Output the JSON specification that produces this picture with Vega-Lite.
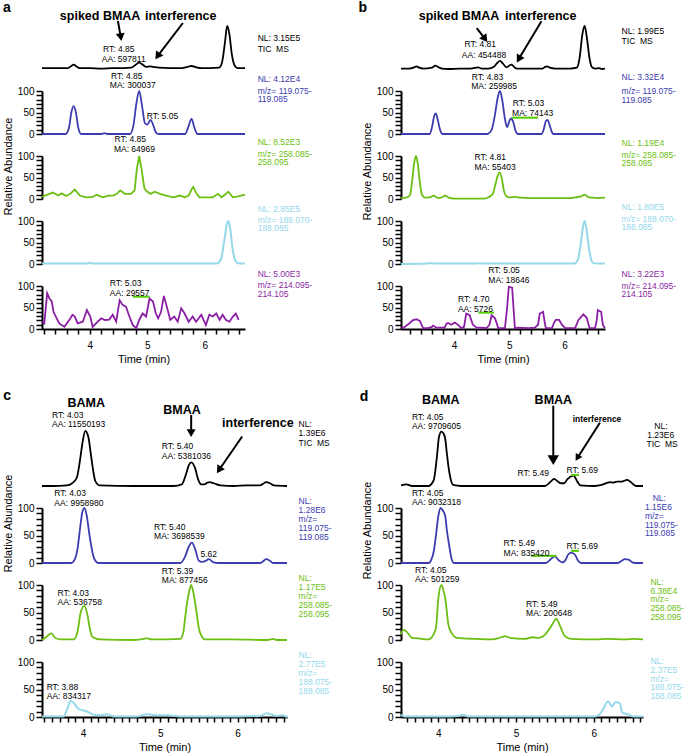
{
"$schema":"https://vega.github.io/schema/vega-lite/v6.json",
"padding":{"left":2,"top":0,"right":4,"bottom":4},
"autosize":{"type":"pad"},
"config":{
 "font":"Liberation Sans",
 "view":{"stroke":null},
 "axis":{"grid":false,"domainColor":"#000000","domainWidth":2,"tickColor":"#000000","tickWidth":1.5,"labelColor":"#000000","labelFontSize":10,"labelOverlap":false,"labelFlush":false,"titleColor":"#000000","titleFontWeight":"normal","titleFontSize":11},
 "axisY":{"tickSize":6,"labelPadding":2},
 "axisX":{"tickSize":5,"labelPadding":6,"titlePadding":3},
 "text":{"align":"left","baseline":"middle","fontSize":8.5}
},
"datasets":{
"tr":[
{"p":"a1","t":3.17,"v":2},{"p":"a1","t":3.3,"v":2},{"p":"a1","t":3.5,"v":2},{"p":"a1","t":3.62,"v":2},{"p":"a1","t":3.68,"v":7},{"p":"a1","t":3.72,"v":10},{"p":"a1","t":3.77,"v":6},{"p":"a1","t":3.82,"v":2},{"p":"a1","t":4.0,"v":2},{"p":"a1","t":4.2,"v":1},{"p":"a1","t":4.4,"v":2},{"p":"a1","t":4.6,"v":2},{"p":"a1","t":4.72,"v":3},{"p":"a1","t":4.8,"v":10},{"p":"a1","t":4.86,"v":15},{"p":"a1","t":4.93,"v":9},{"p":"a1","t":4.98,"v":5},{"p":"a1","t":5.05,"v":6},{"p":"a1","t":5.1,"v":5},{"p":"a1","t":5.2,"v":3},{"p":"a1","t":5.4,"v":2},{"p":"a1","t":5.6,"v":2},{"p":"a1","t":5.7,"v":5},{"p":"a1","t":5.77,"v":7},{"p":"a1","t":5.85,"v":4},{"p":"a1","t":5.95,"v":2},{"p":"a1","t":6.1,"v":2},{"p":"a1","t":6.25,"v":3},{"p":"a1","t":6.3,"v":15},{"p":"a1","t":6.35,"v":60},{"p":"a1","t":6.39,"v":100},{"p":"a1","t":6.43,"v":80},{"p":"a1","t":6.47,"v":35},{"p":"a1","t":6.52,"v":8},{"p":"a1","t":6.57,"v":2},{"p":"a1","t":6.62,"v":2},{"p":"a1","t":6.7,"v":2},
{"p":"a2","t":3.17,"v":0},{"p":"a2","t":3.58,"v":0},{"p":"a2","t":3.64,"v":15},{"p":"a2","t":3.68,"v":50},{"p":"a2","t":3.72,"v":65},{"p":"a2","t":3.76,"v":50},{"p":"a2","t":3.8,"v":15},{"p":"a2","t":3.85,"v":0},{"p":"a2","t":4.2,"v":0},{"p":"a2","t":4.26,"v":2},{"p":"a2","t":4.3,"v":0},{"p":"a2","t":4.7,"v":0},{"p":"a2","t":4.76,"v":20},{"p":"a2","t":4.81,"v":70},{"p":"a2","t":4.86,"v":100},{"p":"a2","t":4.91,"v":65},{"p":"a2","t":4.96,"v":25},{"p":"a2","t":5.0,"v":22},{"p":"a2","t":5.06,"v":33},{"p":"a2","t":5.1,"v":22},{"p":"a2","t":5.16,"v":2},{"p":"a2","t":5.2,"v":0},{"p":"a2","t":5.66,"v":0},{"p":"a2","t":5.71,"v":15},{"p":"a2","t":5.77,"v":35},{"p":"a2","t":5.82,"v":15},{"p":"a2","t":5.87,"v":0},{"p":"a2","t":6.7,"v":0},
{"p":"a3","t":3.17,"v":5},{"p":"a3","t":3.3,"v":12},{"p":"a3","t":3.36,"v":15},{"p":"a3","t":3.45,"v":8},{"p":"a3","t":3.51,"v":13},{"p":"a3","t":3.59,"v":7},{"p":"a3","t":3.66,"v":12},{"p":"a3","t":3.74,"v":22},{"p":"a3","t":3.83,"v":8},{"p":"a3","t":3.94,"v":4},{"p":"a3","t":4.05,"v":5},{"p":"a3","t":4.12,"v":10},{"p":"a3","t":4.18,"v":6},{"p":"a3","t":4.23,"v":4},{"p":"a3","t":4.32,"v":8},{"p":"a3","t":4.41,"v":8},{"p":"a3","t":4.47,"v":12},{"p":"a3","t":4.53,"v":20},{"p":"a3","t":4.61,"v":12},{"p":"a3","t":4.72,"v":12},{"p":"a3","t":4.78,"v":20},{"p":"a3","t":4.82,"v":70},{"p":"a3","t":4.86,"v":100},{"p":"a3","t":4.9,"v":70},{"p":"a3","t":4.95,"v":25},{"p":"a3","t":4.99,"v":18},{"p":"a3","t":5.06,"v":12},{"p":"a3","t":5.13,"v":17},{"p":"a3","t":5.22,"v":12},{"p":"a3","t":5.33,"v":8},{"p":"a3","t":5.45,"v":4},{"p":"a3","t":5.57,"v":8},{"p":"a3","t":5.65,"v":4},{"p":"a3","t":5.72,"v":8},{"p":"a3","t":5.77,"v":22},{"p":"a3","t":5.8,"v":28},{"p":"a3","t":5.86,"v":12},{"p":"a3","t":5.91,"v":4},{"p":"a3","t":6.0,"v":4},{"p":"a3","t":6.14,"v":4},{"p":"a3","t":6.23,"v":12},{"p":"a3","t":6.29,"v":4},{"p":"a3","t":6.35,"v":10},{"p":"a3","t":6.41,"v":17},{"p":"a3","t":6.49,"v":4},{"p":"a3","t":6.58,"v":6},{"p":"a3","t":6.7,"v":10},
{"p":"a4","t":3.17,"v":1},{"p":"a4","t":3.95,"v":1},{"p":"a4","t":4.0,"v":3},{"p":"a4","t":4.05,"v":1},{"p":"a4","t":5.5,"v":1},{"p":"a4","t":6.2,"v":1},{"p":"a4","t":6.28,"v":10},{"p":"a4","t":6.34,"v":55},{"p":"a4","t":6.39,"v":95},{"p":"a4","t":6.41,"v":100},{"p":"a4","t":6.44,"v":85},{"p":"a4","t":6.48,"v":40},{"p":"a4","t":6.53,"v":8},{"p":"a4","t":6.58,"v":2},{"p":"a4","t":6.7,"v":1},
{"p":"a5","t":3.17,"v":17},{"p":"a5","t":3.21,"v":13},{"p":"a5","t":3.26,"v":83},{"p":"a5","t":3.3,"v":71},{"p":"a5","t":3.34,"v":64},{"p":"a5","t":3.37,"v":40},{"p":"a5","t":3.41,"v":29},{"p":"a5","t":3.47,"v":13},{"p":"a5","t":3.56,"v":5},{"p":"a5","t":3.65,"v":22},{"p":"a5","t":3.7,"v":33},{"p":"a5","t":3.74,"v":29},{"p":"a5","t":3.79,"v":13},{"p":"a5","t":3.88,"v":17},{"p":"a5","t":3.95,"v":44},{"p":"a5","t":4.01,"v":29},{"p":"a5","t":4.05,"v":5},{"p":"a5","t":4.14,"v":17},{"p":"a5","t":4.2,"v":25},{"p":"a5","t":4.26,"v":21},{"p":"a5","t":4.34,"v":22},{"p":"a5","t":4.4,"v":33},{"p":"a5","t":4.46,"v":17},{"p":"a5","t":4.52,"v":67},{"p":"a5","t":4.57,"v":56},{"p":"a5","t":4.63,"v":52},{"p":"a5","t":4.69,"v":29},{"p":"a5","t":4.75,"v":9},{"p":"a5","t":4.81,"v":2},{"p":"a5","t":4.86,"v":21},{"p":"a5","t":4.92,"v":36},{"p":"a5","t":4.98,"v":29},{"p":"a5","t":5.04,"v":71},{"p":"a5","t":5.1,"v":64},{"p":"a5","t":5.15,"v":36},{"p":"a5","t":5.19,"v":25},{"p":"a5","t":5.24,"v":40},{"p":"a5","t":5.29,"v":77},{"p":"a5","t":5.34,"v":52},{"p":"a5","t":5.4,"v":21},{"p":"a5","t":5.47,"v":29},{"p":"a5","t":5.53,"v":17},{"p":"a5","t":5.59,"v":48},{"p":"a5","t":5.65,"v":36},{"p":"a5","t":5.72,"v":17},{"p":"a5","t":5.79,"v":29},{"p":"a5","t":5.85,"v":17},{"p":"a5","t":5.94,"v":33},{"p":"a5","t":6.02,"v":9},{"p":"a5","t":6.08,"v":33},{"p":"a5","t":6.14,"v":29},{"p":"a5","t":6.2,"v":36},{"p":"a5","t":6.26,"v":21},{"p":"a5","t":6.31,"v":33},{"p":"a5","t":6.37,"v":21},{"p":"a5","t":6.43,"v":17},{"p":"a5","t":6.49,"v":29},{"p":"a5","t":6.54,"v":36},{"p":"a5","t":6.59,"v":21},
{"p":"b1","t":3.04,"v":1},{"p":"b1","t":3.2,"v":1},{"p":"b1","t":3.28,"v":4},{"p":"b1","t":3.32,"v":6},{"p":"b1","t":3.37,"v":3},{"p":"b1","t":3.44,"v":1},{"p":"b1","t":3.6,"v":3},{"p":"b1","t":3.66,"v":8},{"p":"b1","t":3.72,"v":4},{"p":"b1","t":3.78,"v":1},{"p":"b1","t":3.9,"v":0},{"p":"b1","t":4.1,"v":1},{"p":"b1","t":4.3,"v":1},{"p":"b1","t":4.44,"v":4},{"p":"b1","t":4.5,"v":1},{"p":"b1","t":4.62,"v":1},{"p":"b1","t":4.72,"v":5},{"p":"b1","t":4.78,"v":14},{"p":"b1","t":4.83,"v":19},{"p":"b1","t":4.88,"v":13},{"p":"b1","t":4.95,"v":4},{"p":"b1","t":5.0,"v":8},{"p":"b1","t":5.04,"v":10},{"p":"b1","t":5.1,"v":3},{"p":"b1","t":5.14,"v":1},{"p":"b1","t":5.35,"v":1},{"p":"b1","t":5.6,"v":1},{"p":"b1","t":5.65,"v":5},{"p":"b1","t":5.68,"v":6},{"p":"b1","t":5.73,"v":3},{"p":"b1","t":5.83,"v":1},{"p":"b1","t":6.1,"v":1},{"p":"b1","t":6.22,"v":3},{"p":"b1","t":6.27,"v":25},{"p":"b1","t":6.32,"v":80},{"p":"b1","t":6.36,"v":100},{"p":"b1","t":6.4,"v":75},{"p":"b1","t":6.45,"v":25},{"p":"b1","t":6.49,"v":5},{"p":"b1","t":6.55,"v":1},{"p":"b1","t":6.62,"v":2},{"p":"b1","t":6.68,"v":0},{"p":"b1","t":6.73,"v":1},
{"p":"b2","t":3.04,"v":0},{"p":"b2","t":3.56,"v":0},{"p":"b2","t":3.6,"v":15},{"p":"b2","t":3.64,"v":42},{"p":"b2","t":3.67,"v":48},{"p":"b2","t":3.71,"v":30},{"p":"b2","t":3.75,"v":8},{"p":"b2","t":3.79,"v":0},{"p":"b2","t":4.6,"v":0},{"p":"b2","t":4.68,"v":10},{"p":"b2","t":4.74,"v":45},{"p":"b2","t":4.79,"v":85},{"p":"b2","t":4.83,"v":100},{"p":"b2","t":4.87,"v":80},{"p":"b2","t":4.92,"v":35},{"p":"b2","t":4.96,"v":16},{"p":"b2","t":5.0,"v":30},{"p":"b2","t":5.03,"v":36},{"p":"b2","t":5.07,"v":28},{"p":"b2","t":5.11,"v":8},{"p":"b2","t":5.15,"v":0},{"p":"b2","t":5.58,"v":0},{"p":"b2","t":5.62,"v":10},{"p":"b2","t":5.66,"v":30},{"p":"b2","t":5.69,"v":33},{"p":"b2","t":5.73,"v":20},{"p":"b2","t":5.77,"v":4},{"p":"b2","t":5.8,"v":0},{"p":"b2","t":6.73,"v":0},
{"p":"b3","t":3.04,"v":2},{"p":"b3","t":3.15,"v":4},{"p":"b3","t":3.2,"v":8},{"p":"b3","t":3.24,"v":40},{"p":"b3","t":3.28,"v":85},{"p":"b3","t":3.31,"v":100},{"p":"b3","t":3.34,"v":85},{"p":"b3","t":3.38,"v":40},{"p":"b3","t":3.42,"v":10},{"p":"b3","t":3.48,"v":3},{"p":"b3","t":3.56,"v":4},{"p":"b3","t":3.63,"v":8},{"p":"b3","t":3.68,"v":4},{"p":"b3","t":3.72,"v":2},{"p":"b3","t":3.78,"v":4},{"p":"b3","t":3.84,"v":8},{"p":"b3","t":3.9,"v":3},{"p":"b3","t":4.0,"v":1},{"p":"b3","t":4.2,"v":1},{"p":"b3","t":4.4,"v":1},{"p":"b3","t":4.55,"v":1},{"p":"b3","t":4.62,"v":4},{"p":"b3","t":4.7,"v":12},{"p":"b3","t":4.75,"v":35},{"p":"b3","t":4.79,"v":55},{"p":"b3","t":4.82,"v":62},{"p":"b3","t":4.86,"v":50},{"p":"b3","t":4.9,"v":20},{"p":"b3","t":4.95,"v":6},{"p":"b3","t":5.0,"v":4},{"p":"b3","t":5.1,"v":5},{"p":"b3","t":5.2,"v":3},{"p":"b3","t":5.35,"v":2},{"p":"b3","t":5.6,"v":2},{"p":"b3","t":5.83,"v":2},{"p":"b3","t":6.1,"v":2},{"p":"b3","t":6.19,"v":4},{"p":"b3","t":6.3,"v":6},{"p":"b3","t":6.36,"v":10},{"p":"b3","t":6.42,"v":5},{"p":"b3","t":6.5,"v":3},{"p":"b3","t":6.6,"v":2},{"p":"b3","t":6.73,"v":3},
{"p":"b4","t":3.04,"v":0},{"p":"b4","t":3.5,"v":1},{"p":"b4","t":3.57,"v":2},{"p":"b4","t":3.65,"v":1},{"p":"b4","t":4.4,"v":1},{"p":"b4","t":4.45,"v":2},{"p":"b4","t":4.5,"v":1},{"p":"b4","t":6.18,"v":1},{"p":"b4","t":6.24,"v":10},{"p":"b4","t":6.29,"v":45},{"p":"b4","t":6.33,"v":85},{"p":"b4","t":6.36,"v":100},{"p":"b4","t":6.39,"v":85},{"p":"b4","t":6.43,"v":45},{"p":"b4","t":6.48,"v":10},{"p":"b4","t":6.52,"v":2},{"p":"b4","t":6.6,"v":1},{"p":"b4","t":6.73,"v":1},
{"p":"b5","t":3.05,"v":6},{"p":"b5","t":3.08,"v":2},{"p":"b5","t":3.14,"v":8},{"p":"b5","t":3.2,"v":14},{"p":"b5","t":3.25,"v":20},{"p":"b5","t":3.32,"v":23},{"p":"b5","t":3.38,"v":19},{"p":"b5","t":3.44,"v":2},{"p":"b5","t":3.53,"v":2},{"p":"b5","t":3.6,"v":5},{"p":"b5","t":3.62,"v":8},{"p":"b5","t":3.68,"v":3},{"p":"b5","t":3.83,"v":3},{"p":"b5","t":3.86,"v":12},{"p":"b5","t":3.89,"v":14},{"p":"b5","t":3.95,"v":10},{"p":"b5","t":4.01,"v":15},{"p":"b5","t":4.07,"v":10},{"p":"b5","t":4.13,"v":2},{"p":"b5","t":4.18,"v":5},{"p":"b5","t":4.22,"v":36},{"p":"b5","t":4.28,"v":32},{"p":"b5","t":4.34,"v":10},{"p":"b5","t":4.41,"v":3},{"p":"b5","t":4.5,"v":3},{"p":"b5","t":4.59,"v":2},{"p":"b5","t":4.64,"v":10},{"p":"b5","t":4.68,"v":32},{"p":"b5","t":4.74,"v":25},{"p":"b5","t":4.8,"v":2},{"p":"b5","t":4.92,"v":2},{"p":"b5","t":4.96,"v":50},{"p":"b5","t":4.99,"v":98},{"p":"b5","t":5.05,"v":96},{"p":"b5","t":5.08,"v":40},{"p":"b5","t":5.1,"v":2},{"p":"b5","t":5.16,"v":3},{"p":"b5","t":5.34,"v":2},{"p":"b5","t":5.46,"v":3},{"p":"b5","t":5.52,"v":10},{"p":"b5","t":5.55,"v":36},{"p":"b5","t":5.61,"v":40},{"p":"b5","t":5.64,"v":15},{"p":"b5","t":5.66,"v":2},{"p":"b5","t":5.77,"v":2},{"p":"b5","t":5.81,"v":15},{"p":"b5","t":5.84,"v":21},{"p":"b5","t":5.9,"v":21},{"p":"b5","t":5.95,"v":10},{"p":"b5","t":6.01,"v":2},{"p":"b5","t":6.19,"v":2},{"p":"b5","t":6.25,"v":21},{"p":"b5","t":6.34,"v":34},{"p":"b5","t":6.4,"v":26},{"p":"b5","t":6.45,"v":2},{"p":"b5","t":6.55,"v":2},{"p":"b5","t":6.58,"v":20},{"p":"b5","t":6.6,"v":44},{"p":"b5","t":6.66,"v":40},{"p":"b5","t":6.69,"v":10},{"p":"b5","t":6.73,"v":2},
{"p":"c1","t":3.47,"v":0},{"p":"c1","t":3.6,"v":0},{"p":"c1","t":3.79,"v":1},{"p":"c1","t":3.86,"v":5},{"p":"c1","t":3.92,"v":15},{"p":"c1","t":3.96,"v":45},{"p":"c1","t":3.99,"v":75},{"p":"c1","t":4.03,"v":100},{"p":"c1","t":4.07,"v":89},{"p":"c1","t":4.1,"v":60},{"p":"c1","t":4.13,"v":30},{"p":"c1","t":4.16,"v":9},{"p":"c1","t":4.22,"v":1},{"p":"c1","t":4.66,"v":0},{"p":"c1","t":5.17,"v":0},{"p":"c1","t":5.28,"v":3},{"p":"c1","t":5.33,"v":20},{"p":"c1","t":5.37,"v":38},{"p":"c1","t":5.4,"v":43},{"p":"c1","t":5.45,"v":33},{"p":"c1","t":5.49,"v":12},{"p":"c1","t":5.53,"v":3},{"p":"c1","t":5.57,"v":3},{"p":"c1","t":5.61,"v":6},{"p":"c1","t":5.64,"v":7},{"p":"c1","t":5.69,"v":5},{"p":"c1","t":5.78,"v":1},{"p":"c1","t":5.95,"v":0},{"p":"c1","t":6.12,"v":1},{"p":"c1","t":6.29,"v":1},{"p":"c1","t":6.33,"v":4},{"p":"c1","t":6.37,"v":7},{"p":"c1","t":6.42,"v":5},{"p":"c1","t":6.47,"v":1},{"p":"c1","t":6.64,"v":0},
{"p":"c2","t":3.47,"v":0},{"p":"c2","t":3.85,"v":0},{"p":"c2","t":3.88,"v":3},{"p":"c2","t":3.93,"v":26},{"p":"c2","t":3.96,"v":60},{"p":"c2","t":3.99,"v":91},{"p":"c2","t":4.02,"v":100},{"p":"c2","t":4.05,"v":85},{"p":"c2","t":4.08,"v":55},{"p":"c2","t":4.1,"v":37},{"p":"c2","t":4.13,"v":15},{"p":"c2","t":4.16,"v":4},{"p":"c2","t":4.2,"v":0},{"p":"c2","t":5.26,"v":0},{"p":"c2","t":5.32,"v":11},{"p":"c2","t":5.37,"v":30},{"p":"c2","t":5.41,"v":37},{"p":"c2","t":5.45,"v":26},{"p":"c2","t":5.5,"v":4},{"p":"c2","t":5.54,"v":2},{"p":"c2","t":5.59,"v":4},{"p":"c2","t":5.63,"v":7},{"p":"c2","t":5.69,"v":1},{"p":"c2","t":5.75,"v":0},{"p":"c2","t":6.29,"v":0},{"p":"c2","t":6.33,"v":3},{"p":"c2","t":6.37,"v":7},{"p":"c2","t":6.42,"v":4},{"p":"c2","t":6.46,"v":0},{"p":"c2","t":6.64,"v":0},
{"p":"c3","t":3.47,"v":0},{"p":"c3","t":3.53,"v":6},{"p":"c3","t":3.57,"v":11},{"p":"c3","t":3.59,"v":12},{"p":"c3","t":3.64,"v":4},{"p":"c3","t":3.71,"v":1},{"p":"c3","t":3.88,"v":1},{"p":"c3","t":3.93,"v":15},{"p":"c3","t":3.97,"v":50},{"p":"c3","t":4.02,"v":62},{"p":"c3","t":4.06,"v":44},{"p":"c3","t":4.09,"v":20},{"p":"c3","t":4.12,"v":6},{"p":"c3","t":4.18,"v":2},{"p":"c3","t":4.22,"v":1},{"p":"c3","t":4.66,"v":0},{"p":"c3","t":4.78,"v":2},{"p":"c3","t":4.83,"v":3},{"p":"c3","t":4.89,"v":1},{"p":"c3","t":5.26,"v":2},{"p":"c3","t":5.3,"v":15},{"p":"c3","t":5.32,"v":38},{"p":"c3","t":5.35,"v":70},{"p":"c3","t":5.37,"v":85},{"p":"c3","t":5.4,"v":100},{"p":"c3","t":5.43,"v":85},{"p":"c3","t":5.47,"v":50},{"p":"c3","t":5.5,"v":21},{"p":"c3","t":5.54,"v":6},{"p":"c3","t":5.58,"v":1},{"p":"c3","t":5.95,"v":1},{"p":"c3","t":6.38,"v":0},{"p":"c3","t":6.47,"v":2},{"p":"c3","t":6.5,"v":0},{"p":"c3","t":6.64,"v":0},
{"p":"c4","t":3.47,"v":1},{"p":"c4","t":3.75,"v":1},{"p":"c4","t":3.79,"v":12},{"p":"c4","t":3.84,"v":29},{"p":"c4","t":3.88,"v":26},{"p":"c4","t":3.94,"v":15},{"p":"c4","t":4.05,"v":10},{"p":"c4","t":4.14,"v":4},{"p":"c4","t":4.22,"v":3},{"p":"c4","t":4.31,"v":5},{"p":"c4","t":4.4,"v":1},{"p":"c4","t":4.7,"v":1},{"p":"c4","t":4.83,"v":5},{"p":"c4","t":4.96,"v":3},{"p":"c4","t":5.09,"v":3},{"p":"c4","t":5.3,"v":1},{"p":"c4","t":5.6,"v":1},{"p":"c4","t":6.0,"v":1},{"p":"c4","t":6.29,"v":2},{"p":"c4","t":6.38,"v":7},{"p":"c4","t":6.45,"v":4},{"p":"c4","t":6.51,"v":2},{"p":"c4","t":6.58,"v":3},{"p":"c4","t":6.64,"v":0},
{"p":"d1","t":3.52,"v":1},{"p":"d1","t":3.55,"v":2},{"p":"d1","t":3.59,"v":3},{"p":"d1","t":3.66,"v":0},{"p":"d1","t":3.87,"v":0},{"p":"d1","t":3.94,"v":10},{"p":"d1","t":3.98,"v":50},{"p":"d1","t":4.01,"v":90},{"p":"d1","t":4.04,"v":99},{"p":"d1","t":4.07,"v":95},{"p":"d1","t":4.09,"v":85},{"p":"d1","t":4.11,"v":60},{"p":"d1","t":4.13,"v":36},{"p":"d1","t":4.16,"v":12},{"p":"d1","t":4.19,"v":2},{"p":"d1","t":4.3,"v":0},{"p":"d1","t":4.9,"v":0},{"p":"d1","t":5.37,"v":0},{"p":"d1","t":5.44,"v":7},{"p":"d1","t":5.49,"v":13},{"p":"d1","t":5.54,"v":8},{"p":"d1","t":5.58,"v":5},{"p":"d1","t":5.62,"v":5},{"p":"d1","t":5.66,"v":12},{"p":"d1","t":5.7,"v":17},{"p":"d1","t":5.74,"v":19},{"p":"d1","t":5.79,"v":8},{"p":"d1","t":5.83,"v":1},{"p":"d1","t":6.01,"v":0},{"p":"d1","t":6.1,"v":2},{"p":"d1","t":6.14,"v":4},{"p":"d1","t":6.18,"v":6},{"p":"d1","t":6.21,"v":7},{"p":"d1","t":6.25,"v":6},{"p":"d1","t":6.3,"v":8},{"p":"d1","t":6.36,"v":8},{"p":"d1","t":6.43,"v":11},{"p":"d1","t":6.47,"v":8},{"p":"d1","t":6.52,"v":2},{"p":"d1","t":6.55,"v":0},{"p":"d1","t":6.635,"v":0},
{"p":"d2","t":3.52,"v":0},{"p":"d2","t":3.88,"v":0},{"p":"d2","t":3.91,"v":6},{"p":"d2","t":3.94,"v":20},{"p":"d2","t":3.97,"v":50},{"p":"d2","t":4.0,"v":85},{"p":"d2","t":4.03,"v":100},{"p":"d2","t":4.06,"v":95},{"p":"d2","t":4.09,"v":85},{"p":"d2","t":4.11,"v":60},{"p":"d2","t":4.14,"v":32},{"p":"d2","t":4.17,"v":8},{"p":"d2","t":4.2,"v":0},{"p":"d2","t":5.37,"v":0},{"p":"d2","t":5.41,"v":2},{"p":"d2","t":5.44,"v":6},{"p":"d2","t":5.5,"v":12},{"p":"d2","t":5.55,"v":5},{"p":"d2","t":5.6,"v":1},{"p":"d2","t":5.64,"v":6},{"p":"d2","t":5.67,"v":15},{"p":"d2","t":5.71,"v":19},{"p":"d2","t":5.76,"v":15},{"p":"d2","t":5.8,"v":4},{"p":"d2","t":5.84,"v":0},{"p":"d2","t":6.31,"v":0},{"p":"d2","t":6.36,"v":4},{"p":"d2","t":6.4,"v":7},{"p":"d2","t":6.45,"v":6},{"p":"d2","t":6.5,"v":1},{"p":"d2","t":6.53,"v":0},{"p":"d2","t":6.635,"v":0},
{"p":"d3","t":3.52,"v":10},{"p":"d3","t":3.55,"v":19},{"p":"d3","t":3.6,"v":14},{"p":"d3","t":3.66,"v":4},{"p":"d3","t":3.74,"v":3},{"p":"d3","t":3.87,"v":1},{"p":"d3","t":3.91,"v":4},{"p":"d3","t":3.97,"v":22},{"p":"d3","t":4.0,"v":75},{"p":"d3","t":4.04,"v":100},{"p":"d3","t":4.07,"v":88},{"p":"d3","t":4.09,"v":75},{"p":"d3","t":4.13,"v":28},{"p":"d3","t":4.17,"v":13},{"p":"d3","t":4.24,"v":4},{"p":"d3","t":4.47,"v":2},{"p":"d3","t":4.69,"v":1},{"p":"d3","t":4.81,"v":5},{"p":"d3","t":4.86,"v":7},{"p":"d3","t":4.92,"v":4},{"p":"d3","t":5.11,"v":2},{"p":"d3","t":5.22,"v":5},{"p":"d3","t":5.29,"v":4},{"p":"d3","t":5.35,"v":7},{"p":"d3","t":5.44,"v":22},{"p":"d3","t":5.5,"v":36},{"p":"d3","t":5.52,"v":39},{"p":"d3","t":5.56,"v":28},{"p":"d3","t":5.63,"v":7},{"p":"d3","t":5.71,"v":2},{"p":"d3","t":6.01,"v":1},{"p":"d3","t":6.19,"v":2},{"p":"d3","t":6.4,"v":1},{"p":"d3","t":6.53,"v":2},{"p":"d3","t":6.635,"v":1},
{"p":"d4","t":3.52,"v":4},{"p":"d4","t":3.57,"v":1},{"p":"d4","t":4.04,"v":1},{"p":"d4","t":4.26,"v":2},{"p":"d4","t":4.32,"v":4},{"p":"d4","t":4.38,"v":1},{"p":"d4","t":5.33,"v":1},{"p":"d4","t":6.01,"v":1},{"p":"d4","t":6.06,"v":3},{"p":"d4","t":6.12,"v":13},{"p":"d4","t":6.16,"v":25},{"p":"d4","t":6.19,"v":28},{"p":"d4","t":6.22,"v":22},{"p":"d4","t":6.24,"v":19},{"p":"d4","t":6.27,"v":26},{"p":"d4","t":6.29,"v":27},{"p":"d4","t":6.34,"v":25},{"p":"d4","t":6.36,"v":10},{"p":"d4","t":6.38,"v":7},{"p":"d4","t":6.44,"v":5},{"p":"d4","t":6.51,"v":1},{"p":"d4","t":6.635,"v":1}
],
"lb":[
{"p":"a1","k":"ann","t":4.23,"v":46,"s":"RT: 4.85"},{"p":"a1","k":"ann","t":4.21,"v":23,"s":"AA: 597811"},
{"p":"a1","k":"nl","t":6.92,"v":72,"s":"NL: 3.15E5"},{"p":"a1","k":"nl","t":6.92,"v":47,"s":"TIC \u00a0MS"},
{"p":"a1","k":"ttl","t":3.48,"v":123,"s":"spiked BMAA"},{"p":"a1","k":"ttl","t":4.96,"v":123,"s":"interference"},
{"p":"a1","k":"pl","t":2.49,"v":142,"s":"a"},
{"p":"a2","k":"ann","t":4.37,"v":136,"s":"RT: 4.85"},{"p":"a2","k":"ann","t":4.35,"v":114,"s":"MA: 300037"},{"p":"a2","k":"ann","t":4.99,"v":42,"s":"RT: 5.05"},
{"p":"a2","k":"nl","t":6.92,"v":128,"s":"NL: 4.12E4"},{"p":"a2","k":"nl","t":6.92,"v":100,"s":"m/z= 119.075-"},{"p":"a2","k":"nl","t":6.92,"v":81,"s":"119.085"},
{"p":"a3","k":"ann","t":4.43,"v":139,"s":"RT: 4.85"},{"p":"a3","k":"ann","t":4.42,"v":117,"s":"MA: 64969"},
{"p":"a3","k":"nl","t":6.92,"v":133,"s":"NL: 8.52E3"},{"p":"a3","k":"nl","t":6.92,"v":105,"s":"m/z= 258.085-"},{"p":"a3","k":"nl","t":6.92,"v":86,"s":"258.095"},
{"p":"a4","k":"nl","t":6.92,"v":128,"s":"NL: 2.85E5"},{"p":"a4","k":"nl","t":6.92,"v":102,"s":"m/z= 188.070-"},{"p":"a4","k":"nl","t":6.92,"v":84,"s":"188.085"},
{"p":"a5","k":"ann","t":4.35,"v":107,"s":"RT: 5.03"},{"p":"a5","k":"ann","t":4.35,"v":84,"s":"AA: 29557"},
{"p":"a5","k":"nl","t":6.92,"v":128,"s":"NL: 5.00E3"},{"p":"a5","k":"nl","t":6.92,"v":102,"s":"m/z= 214.095-"},{"p":"a5","k":"nl","t":6.92,"v":81,"s":"214.105"},
{"p":"b1","k":"ann","t":4.19,"v":57,"s":"RT: 4.81"},{"p":"b1","k":"ann","t":4.14,"v":33,"s":"AA: 454488"},
{"p":"b1","k":"nl","t":7.03,"v":88,"s":"NL: 1.99E5"},{"p":"b1","k":"nl","t":7.03,"v":64,"s":"TIC \u00a0MS"},
{"p":"b1","k":"ttl","t":3.36,"v":123,"s":"spiked BMAA"},{"p":"b1","k":"ttl","t":4.92,"v":123,"s":"interference"},
{"p":"b1","k":"pl","t":2.27,"v":142,"s":"b"},
{"p":"b2","k":"ann","t":4.32,"v":132,"s":"RT: 4.83"},{"p":"b2","k":"ann","t":4.31,"v":111,"s":"MA: 259985"},{"p":"b2","k":"ann","t":5.06,"v":73,"s":"RT: 5.03"},{"p":"b2","k":"ann","t":5.05,"v":48,"s":"MA: 74143"},
{"p":"b2","k":"nl","t":7.03,"v":132,"s":"NL: 3.32E4"},{"p":"b2","k":"nl","t":7.03,"v":100,"s":"m/z= 119.075-"},{"p":"b2","k":"nl","t":7.03,"v":80,"s":"119.085"},
{"p":"b3","k":"ann","t":4.37,"v":97,"s":"RT: 4.81"},{"p":"b3","k":"ann","t":4.37,"v":74,"s":"MA: 55403"},
{"p":"b3","k":"nl","t":7.03,"v":131,"s":"NL: 1.19E4"},{"p":"b3","k":"nl","t":7.03,"v":102,"s":"m/z= 258.085-"},{"p":"b3","k":"nl","t":7.03,"v":83,"s":"258.095"},
{"p":"b4","k":"nl","t":7.03,"v":132,"s":"NL: 1.80E5"},{"p":"b4","k":"nl","t":7.03,"v":104,"s":"m/z= 188.070-"},{"p":"b4","k":"nl","t":7.03,"v":85,"s":"188.085"},
{"p":"b5","k":"ann","t":4.62,"v":138,"s":"RT: 5.05"},{"p":"b5","k":"ann","t":4.62,"v":115,"s":"MA: 18646"},{"p":"b5","k":"ann","t":4.07,"v":70,"s":"RT: 4.70"},{"p":"b5","k":"ann","t":4.07,"v":46,"s":"AA: 5726"},
{"p":"b5","k":"nl","t":7.03,"v":129,"s":"NL: 3.22E3"},{"p":"b5","k":"nl","t":7.03,"v":101,"s":"m/z= 214.095-"},{"p":"b5","k":"nl","t":7.03,"v":81,"s":"214.105"},
{"p":"c1","k":"ann","t":3.6,"v":129,"s":"RT: 4.03"},{"p":"c1","k":"ann","t":3.6,"v":112,"s":"AA: 11550193"},{"p":"c1","k":"ann","t":5.02,"v":72,"s":"RT: 5.40"},{"p":"c1","k":"ann","t":5.02,"v":54,"s":"AA: 5381036"},
{"p":"c1","k":"nl","t":6.79,"v":112,"s":"NL:"},{"p":"c1","k":"nl","t":6.79,"v":96,"s":"1.39E6"},{"p":"c1","k":"nl","t":6.79,"v":79,"s":"TIC \u00a0MS"},
{"p":"c1","k":"ttl","t":3.8,"v":151,"s":"BAMA"},{"p":"c1","k":"ttl","t":5.04,"v":139,"s":"BMAA"},{"p":"c1","k":"ttl","t":5.8,"v":114,"s":"interference"},
{"p":"c1","k":"pl","t":2.97,"v":164,"s":"c"},
{"p":"c2","k":"ann","t":3.63,"v":127,"s":"RT: 4.03"},{"p":"c2","k":"ann","t":3.63,"v":109,"s":"AA: 9958980"},{"p":"c2","k":"ann","t":4.92,"v":66,"s":"RT: 5.40"},{"p":"c2","k":"ann","t":4.92,"v":49,"s":"MA: 3698539"},{"p":"c2","k":"ann","t":5.52,"v":16,"s":"5.62"},
{"p":"c2","k":"nl","t":6.79,"v":112,"s":"NL:"},{"p":"c2","k":"nl","t":6.79,"v":96,"s":"1.28E6"},{"p":"c2","k":"nl","t":6.79,"v":80,"s":"m/z="},{"p":"c2","k":"nl","t":6.79,"v":64,"s":"119.075-"},{"p":"c2","k":"nl","t":6.79,"v":48,"s":"119.085"},
{"p":"c3","k":"ann","t":5.02,"v":126,"s":"RT: 5.39"},{"p":"c3","k":"ann","t":5.02,"v":109,"s":"MA: 877456"},{"p":"c3","k":"ann","t":3.67,"v":85,"s":"RT: 4.03"},{"p":"c3","k":"ann","t":3.67,"v":69,"s":"AA: 536758"},
{"p":"c3","k":"nl","t":6.79,"v":112,"s":"NL:"},{"p":"c3","k":"nl","t":6.79,"v":96,"s":"1.17E5"},{"p":"c3","k":"nl","t":6.79,"v":80,"s":"m/z="},{"p":"c3","k":"nl","t":6.79,"v":64,"s":"258.085-"},{"p":"c3","k":"nl","t":6.79,"v":48,"s":"258.095"},
{"p":"c4","k":"ann","t":3.53,"v":55,"s":"RT: 3.88"},{"p":"c4","k":"ann","t":3.53,"v":38,"s":"AA: 834317"},
{"p":"c4","k":"nl","t":6.79,"v":112,"s":"NL:"},{"p":"c4","k":"nl","t":6.79,"v":96,"s":"2.77E5"},{"p":"c4","k":"nl","t":6.79,"v":80,"s":"m/z="},{"p":"c4","k":"nl","t":6.79,"v":64,"s":"188.075-"},{"p":"c4","k":"nl","t":6.79,"v":48,"s":"188.085"},
{"p":"d1","k":"ann","t":3.66,"v":126,"s":"RT: 4.05"},{"p":"d1","k":"ann","t":3.66,"v":110,"s":"AA: 9709605"},{"p":"d1","k":"ann","t":5.02,"v":24,"s":"RT: 5.49"},{"p":"d1","k":"ann","t":5.65,"v":29,"s":"RT: 5.69"},
{"p":"d1","k":"nl","t":6.78,"v":109,"s":"NL:"},{"p":"d1","k":"nl","t":6.69,"v":93,"s":"1.23E6"},{"p":"d1","k":"nl","t":6.68,"v":77,"s":"TIC \u00a0MS"},
{"p":"d1","k":"ttl","t":3.79,"v":157,"s":"BAMA"},{"p":"d1","k":"ttl","t":5.24,"v":157,"s":"BMAA"},{"p":"d1","k":"ttls","t":5.73,"v":122,"s":"interference"},
{"p":"d1","k":"pl","t":2.99,"v":161,"s":"d"},
{"p":"d2","k":"ann","t":3.66,"v":127,"s":"RT: 4.05"},{"p":"d2","k":"ann","t":3.66,"v":111,"s":"AA: 9032318"},{"p":"d2","k":"ann","t":4.84,"v":36,"s":"RT: 5.49"},{"p":"d2","k":"ann","t":4.84,"v":19,"s":"MA: 835420"},{"p":"d2","k":"ann","t":5.65,"v":31,"s":"RT: 5.69"},
{"p":"d2","k":"nl","t":6.76,"v":118,"s":"NL:"},{"p":"d2","k":"nl","t":6.66,"v":102,"s":"1.15E6"},{"p":"d2","k":"nl","t":6.66,"v":86,"s":"m/z="},{"p":"d2","k":"nl","t":6.66,"v":70,"s":"119.075-"},{"p":"d2","k":"nl","t":6.66,"v":54,"s":"119.085"},
{"p":"d3","k":"ann","t":3.7,"v":127,"s":"RT: 4.05"},{"p":"d3","k":"ann","t":3.7,"v":111,"s":"AA: 501259"},{"p":"d3","k":"ann","t":5.13,"v":66,"s":"RT: 5.49"},{"p":"d3","k":"ann","t":5.13,"v":50,"s":"MA: 200648"},
{"p":"d3","k":"nl","t":6.73,"v":106,"s":"NL:"},{"p":"d3","k":"nl","t":6.73,"v":90,"s":"6.38E4"},{"p":"d3","k":"nl","t":6.73,"v":74,"s":"m/z="},{"p":"d3","k":"nl","t":6.73,"v":58,"s":"258.085-"},{"p":"d3","k":"nl","t":6.73,"v":42,"s":"258.095"},
{"p":"d4","k":"nl","t":6.73,"v":102,"s":"NL:"},{"p":"d4","k":"nl","t":6.73,"v":86,"s":"2.37E5"},{"p":"d4","k":"nl","t":6.73,"v":70,"s":"m/z="},{"p":"d4","k":"nl","t":6.73,"v":54,"s":"188.075-"},{"p":"d4","k":"nl","t":6.73,"v":38,"s":"188.085"}
],
"mk":[
{"p":"a5","t":4.75,"t2":5.04,"v":75},{"p":"b2","t":5.04,"t2":5.52,"v":38},{"p":"b5","t":4.44,"t2":4.72,"v":38},{"p":"d1","t":5.71,"t2":5.81,"v":20},{"p":"d2","t":5.19,"t2":5.52,"v":13},{"p":"d2","t":5.71,"t2":5.81,"v":22}
],
"ar":[
{"p":"a","id":"a1","t":4.49,"v":112,"t2":4.54,"v2":74},{"p":"a","id":"a2","t":5.62,"v":107,"t2":5.18,"v2":30},
{"p":"b","id":"b1","t":4.41,"v":95,"t2":4.56,"v2":70},{"p":"b","id":"b2","t":5.58,"v":111,"t2":5.17,"v2":23},
{"p":"c","id":"c1","t":5.4,"v":129,"t2":5.4,"v2":96},{"p":"c","id":"c2","t":6.06,"v":90,"t2":5.76,"v2":29},
{"p":"d","id":"d1","t":5.48,"v":146,"t2":5.48,"v2":47},{"p":"d","id":"d2","t":6.08,"v":115,"t2":5.79,"v2":51}
]
},
"columns":2,
"spacing":{"row":22,"column":114},
"bounds":"flush",
"align":"each",
"concat":[
{"width":203,"height":43,
 "encoding":{"x":{"field":"t","type":"quantitative","scale":{"domain":[3.17,6.7],"nice":false,"zero":false},"axis":null},"y":{"field":"v","type":"quantitative","scale":{"domain":[0,100],"nice":false,"zero":false},"axis":{"values":[0,10,20,30,40,50,60,70,80,90,100],"labelExpr":"datum.value % 50 == 0 ? datum.label : ''","title":null}}},
 "layer":[
  {"data":{"name":"tr"},"transform":[{"filter":"datum.p=='a1'"}],"mark":{"type":"line","color":"#000000","strokeWidth":1.8,"interpolate":"monotone"},"encoding":{}},
  {"data":{"name":"lb"},"transform":[{"filter":"datum.p=='a1' && (datum.k=='ann' || datum.k=='nl')"}],"mark":{"type":"text","color":"#000000"},"encoding":{"text":{"field":"s"}}},
  {"data":{"name":"lb"},"transform":[{"filter":"datum.p=='a1' && datum.k=='ttl'"}],"mark":{"type":"text","color":"#000000","fontSize":12.5,"fontWeight":"bold"},"encoding":{"text":{"field":"s"}}},
  {"data":{"name":"lb"},"transform":[{"filter":"datum.p=='a1' && datum.k=='pl'"}],"mark":{"type":"text","color":"#000000","fontSize":14,"fontWeight":"bold"},"encoding":{"text":{"field":"s"}}},
  {"data":{"name":"ar"},"transform":[{"filter":"datum.p=='a'"}],"mark":{"type":"rule","color":"#000000","strokeWidth":2},"encoding":{"x2":{"field":"t2"},"y2":{"field":"v2"}}},
  {"data":{"name":"ar"},"transform":[{"filter":"datum.id=='a1'"}],"mark":{"type":"point","shape":"triangle-up","angle":171,"filled":true,"opacity":1,"size":80,"color":"#000000"},"encoding":{"x":{"field":"t2","type":"quantitative","axis":null},"y":{"field":"v2","type":"quantitative","axis":null}}},
  {"data":{"name":"ar"},"transform":[{"filter":"datum.id=='a2'"}],"mark":{"type":"point","shape":"triangle-up","angle":214,"filled":true,"opacity":1,"size":80,"color":"#000000"},"encoding":{"x":{"field":"t2","type":"quantitative","axis":null},"y":{"field":"v2","type":"quantitative","axis":null}}}
 ]},
{"width":204,"height":43,
 "encoding":{"x":{"field":"t","type":"quantitative","scale":{"domain":[3.04,6.73],"nice":false,"zero":false},"axis":null},"y":{"field":"v","type":"quantitative","scale":{"domain":[0,100],"nice":false,"zero":false},"axis":{"values":[0,10,20,30,40,50,60,70,80,90,100],"labelExpr":"datum.value % 50 == 0 ? datum.label : ''","title":null}}},
 "layer":[
  {"data":{"name":"tr"},"transform":[{"filter":"datum.p=='b1'"}],"mark":{"type":"line","color":"#000000","strokeWidth":1.8,"interpolate":"monotone"},"encoding":{}},
  {"data":{"name":"lb"},"transform":[{"filter":"datum.p=='b1' && (datum.k=='ann' || datum.k=='nl')"}],"mark":{"type":"text","color":"#000000"},"encoding":{"text":{"field":"s"}}},
  {"data":{"name":"lb"},"transform":[{"filter":"datum.p=='b1' && datum.k=='ttl'"}],"mark":{"type":"text","color":"#000000","fontSize":12.5,"fontWeight":"bold"},"encoding":{"text":{"field":"s"}}},
  {"data":{"name":"lb"},"transform":[{"filter":"datum.p=='b1' && datum.k=='pl'"}],"mark":{"type":"text","color":"#000000","fontSize":14,"fontWeight":"bold"},"encoding":{"text":{"field":"s"}}},
  {"data":{"name":"ar"},"transform":[{"filter":"datum.p=='b'"}],"mark":{"type":"rule","color":"#000000","strokeWidth":2},"encoding":{"x2":{"field":"t2"},"y2":{"field":"v2"}}},
  {"data":{"name":"ar"},"transform":[{"filter":"datum.id=='b1'"}],"mark":{"type":"point","shape":"triangle-up","angle":144,"filled":true,"opacity":1,"size":80,"color":"#000000"},"encoding":{"x":{"field":"t2","type":"quantitative","axis":null},"y":{"field":"v2","type":"quantitative","axis":null}}},
  {"data":{"name":"ar"},"transform":[{"filter":"datum.id=='b2'"}],"mark":{"type":"point","shape":"triangle-up","angle":210,"filled":true,"opacity":1,"size":80,"color":"#000000"},"encoding":{"x":{"field":"t2","type":"quantitative","axis":null},"y":{"field":"v2","type":"quantitative","axis":null}}}
 ]},
{"width":203,"height":43,
 "encoding":{"x":{"field":"t","type":"quantitative","scale":{"domain":[3.17,6.7],"nice":false,"zero":false},"axis":null},"y":{"field":"v","type":"quantitative","scale":{"domain":[0,100],"nice":false,"zero":false},"axis":{"values":[0,10,20,30,40,50,60,70,80,90,100],"labelExpr":"datum.value % 50 == 0 ? datum.label : ''","title":null}}},
 "layer":[
  {"data":{"name":"tr"},"transform":[{"filter":"datum.p=='a2'"}],"mark":{"type":"line","color":"#3c3cb0","strokeWidth":1.8,"interpolate":"monotone"},"encoding":{}},
  {"data":{"name":"lb"},"transform":[{"filter":"datum.p=='a2' && datum.k=='ann'"}],"mark":{"type":"text","color":"#000000"},"encoding":{"text":{"field":"s"}}},
  {"data":{"name":"lb"},"transform":[{"filter":"datum.p=='a2' && datum.k=='nl'"}],"mark":{"type":"text","color":"#3c3cb0"},"encoding":{"text":{"field":"s"}}}
 ]},
{"width":204,"height":43,
 "encoding":{"x":{"field":"t","type":"quantitative","scale":{"domain":[3.04,6.73],"nice":false,"zero":false},"axis":null},"y":{"field":"v","type":"quantitative","scale":{"domain":[0,100],"nice":false,"zero":false},"axis":{"values":[0,10,20,30,40,50,60,70,80,90,100],"labelExpr":"datum.value % 50 == 0 ? datum.label : ''","title":null}}},
 "layer":[
  {"data":{"name":"tr"},"transform":[{"filter":"datum.p=='b2'"}],"mark":{"type":"line","color":"#3c3cb0","strokeWidth":1.8,"interpolate":"monotone"},"encoding":{}},
  {"data":{"name":"mk"},"transform":[{"filter":"datum.p=='b2'"}],"mark":{"type":"rule","color":"#55cc00","strokeWidth":2},"encoding":{"x2":{"field":"t2"}}},
  {"data":{"name":"lb"},"transform":[{"filter":"datum.p=='b2' && datum.k=='ann'"}],"mark":{"type":"text","color":"#000000"},"encoding":{"text":{"field":"s"}}},
  {"data":{"name":"lb"},"transform":[{"filter":"datum.p=='b2' && datum.k=='nl'"}],"mark":{"type":"text","color":"#3c3cb0"},"encoding":{"text":{"field":"s"}}}
 ]},
{"width":203,"height":43,
 "encoding":{"x":{"field":"t","type":"quantitative","scale":{"domain":[3.17,6.7],"nice":false,"zero":false},"axis":null},"y":{"field":"v","type":"quantitative","scale":{"domain":[0,100],"nice":false,"zero":false},"axis":{"values":[0,10,20,30,40,50,60,70,80,90,100],"labelExpr":"datum.value % 50 == 0 ? datum.label : ''","title":"Relative Abundance","titleY":10,"titlePadding":4}}},
 "layer":[
  {"data":{"name":"tr"},"transform":[{"filter":"datum.p=='a3'"}],"mark":{"type":"line","color":"#6cbf12","strokeWidth":1.8,"interpolate":"linear"},"encoding":{}},
  {"data":{"name":"lb"},"transform":[{"filter":"datum.p=='a3' && datum.k=='ann'"}],"mark":{"type":"text","color":"#000000"},"encoding":{"text":{"field":"s"}}},
  {"data":{"name":"lb"},"transform":[{"filter":"datum.p=='a3' && datum.k=='nl'"}],"mark":{"type":"text","color":"#6cbf12"},"encoding":{"text":{"field":"s"}}}
 ]},
{"width":204,"height":43,
 "encoding":{"x":{"field":"t","type":"quantitative","scale":{"domain":[3.04,6.73],"nice":false,"zero":false},"axis":null},"y":{"field":"v","type":"quantitative","scale":{"domain":[0,100],"nice":false,"zero":false},"axis":{"values":[0,10,20,30,40,50,60,70,80,90,100],"labelExpr":"datum.value % 50 == 0 ? datum.label : ''","title":"Relative Abundance","titleY":15,"titlePadding":4}}},
 "layer":[
  {"data":{"name":"tr"},"transform":[{"filter":"datum.p=='b3'"}],"mark":{"type":"line","color":"#6cbf12","strokeWidth":1.8,"interpolate":"monotone"},"encoding":{}},
  {"data":{"name":"lb"},"transform":[{"filter":"datum.p=='b3' && datum.k=='ann'"}],"mark":{"type":"text","color":"#000000"},"encoding":{"text":{"field":"s"}}},
  {"data":{"name":"lb"},"transform":[{"filter":"datum.p=='b3' && datum.k=='nl'"}],"mark":{"type":"text","color":"#6cbf12"},"encoding":{"text":{"field":"s"}}}
 ]},
{"width":203,"height":43,
 "encoding":{"x":{"field":"t","type":"quantitative","scale":{"domain":[3.17,6.7],"nice":false,"zero":false},"axis":null},"y":{"field":"v","type":"quantitative","scale":{"domain":[0,100],"nice":false,"zero":false},"axis":{"values":[0,10,20,30,40,50,60,70,80,90,100],"labelExpr":"datum.value % 50 == 0 ? datum.label : ''","title":null}}},
 "layer":[
  {"data":{"name":"tr"},"transform":[{"filter":"datum.p=='a4'"}],"mark":{"type":"line","color":"#95d8ea","strokeWidth":2,"interpolate":"monotone"},"encoding":{}},
  {"data":{"name":"lb"},"transform":[{"filter":"datum.p=='a4' && datum.k=='nl'"}],"mark":{"type":"text","color":"#95d8ea"},"encoding":{"text":{"field":"s"}}}
 ]},
{"width":204,"height":43,
 "encoding":{"x":{"field":"t","type":"quantitative","scale":{"domain":[3.04,6.73],"nice":false,"zero":false},"axis":null},"y":{"field":"v","type":"quantitative","scale":{"domain":[0,100],"nice":false,"zero":false},"axis":{"values":[0,10,20,30,40,50,60,70,80,90,100],"labelExpr":"datum.value % 50 == 0 ? datum.label : ''","title":null}}},
 "layer":[
  {"data":{"name":"tr"},"transform":[{"filter":"datum.p=='b4'"}],"mark":{"type":"line","color":"#95d8ea","strokeWidth":2,"interpolate":"monotone"},"encoding":{}},
  {"data":{"name":"lb"},"transform":[{"filter":"datum.p=='b4' && datum.k=='nl'"}],"mark":{"type":"text","color":"#95d8ea"},"encoding":{"text":{"field":"s"}}}
 ]},
{"width":203,"height":43,
 "encoding":{"x":{"field":"t","type":"quantitative","scale":{"domain":[3.17,6.7],"nice":false,"zero":false},"axis":{"values":[3.2,3.4,3.6,3.8,4,4.2,4.4,4.6,4.8,5,5.2,5.4,5.6,5.8,6,6.2,6.4,6.6],"labelExpr":"abs(datum.value - round(datum.value)) < 0.001 ? format(datum.value, 'd') : ''","title":"Time (min)"}},"y":{"field":"v","type":"quantitative","scale":{"domain":[0,100],"nice":false,"zero":false},"axis":{"values":[0,10,20,30,40,50,60,70,80,90,100],"labelExpr":"datum.value % 50 == 0 ? datum.label : ''","title":null}}},
 "layer":[
  {"data":{"name":"tr"},"transform":[{"filter":"datum.p=='a5'"}],"mark":{"type":"line","color":"#8a1fa3","strokeWidth":1.8,"interpolate":"linear"},"encoding":{}},
  {"data":{"name":"mk"},"transform":[{"filter":"datum.p=='a5'"}],"mark":{"type":"rule","color":"#55cc00","strokeWidth":2},"encoding":{"x2":{"field":"t2"}}},
  {"data":{"name":"lb"},"transform":[{"filter":"datum.p=='a5' && datum.k=='ann'"}],"mark":{"type":"text","color":"#000000"},"encoding":{"text":{"field":"s"}}},
  {"data":{"name":"lb"},"transform":[{"filter":"datum.p=='a5' && datum.k=='nl'"}],"mark":{"type":"text","color":"#8a1fa3"},"encoding":{"text":{"field":"s"}}}
 ]},
{"width":204,"height":43,
 "encoding":{"x":{"field":"t","type":"quantitative","scale":{"domain":[3.04,6.73],"nice":false,"zero":false},"axis":{"values":[3.2,3.4,3.6,3.8,4,4.2,4.4,4.6,4.8,5,5.2,5.4,5.6,5.8,6,6.2,6.4,6.6],"labelExpr":"abs(datum.value - round(datum.value)) < 0.001 ? format(datum.value, 'd') : ''","title":"Time (min)"}},"y":{"field":"v","type":"quantitative","scale":{"domain":[0,100],"nice":false,"zero":false},"axis":{"values":[0,10,20,30,40,50,60,70,80,90,100],"labelExpr":"datum.value % 50 == 0 ? datum.label : ''","title":null}}},
 "layer":[
  {"data":{"name":"tr"},"transform":[{"filter":"datum.p=='b5'"}],"mark":{"type":"line","color":"#8a1fa3","strokeWidth":1.8,"interpolate":"linear"},"encoding":{}},
  {"data":{"name":"mk"},"transform":[{"filter":"datum.p=='b5'"}],"mark":{"type":"rule","color":"#55cc00","strokeWidth":2},"encoding":{"x2":{"field":"t2"}}},
  {"data":{"name":"lb"},"transform":[{"filter":"datum.p=='b5' && datum.k=='ann'"}],"mark":{"type":"text","color":"#000000"},"encoding":{"text":{"field":"s"}}},
  {"data":{"name":"lb"},"transform":[{"filter":"datum.p=='b5' && datum.k=='nl'"}],"mark":{"type":"text","color":"#8a1fa3"},"encoding":{"text":{"field":"s"}}}
 ]},
{"width":10,"height":58,"data":{"values":[{"s":""}]},"mark":{"type":"text"},"encoding":{"text":{"field":"s"}}},
{"width":10,"height":58,"data":{"values":[{"s":""}]},"mark":{"type":"text"},"encoding":{"text":{"field":"s"}}},
{"width":245,"height":55,
 "encoding":{"x":{"field":"t","type":"quantitative","scale":{"domain":[3.47,6.64],"nice":false,"zero":false},"axis":null},"y":{"field":"v","type":"quantitative","scale":{"domain":[0,100],"nice":false,"zero":false},"axis":{"values":[0,10,20,30,40,50,60,70,80,90,100],"labelExpr":"datum.value % 50 == 0 ? datum.label : ''","title":null}}},
 "layer":[
  {"data":{"name":"tr"},"transform":[{"filter":"datum.p=='c1'"}],"mark":{"type":"line","color":"#000000","strokeWidth":1.8,"interpolate":"monotone"},"encoding":{}},
  {"data":{"name":"lb"},"transform":[{"filter":"datum.p=='c1' && (datum.k=='ann' || datum.k=='nl')"}],"mark":{"type":"text","color":"#000000"},"encoding":{"text":{"field":"s"}}},
  {"data":{"name":"lb"},"transform":[{"filter":"datum.p=='c1' && datum.k=='ttl'"}],"mark":{"type":"text","color":"#000000","fontSize":12.5,"fontWeight":"bold"},"encoding":{"text":{"field":"s"}}},
  {"data":{"name":"lb"},"transform":[{"filter":"datum.p=='c1' && datum.k=='pl'"}],"mark":{"type":"text","color":"#000000","fontSize":14,"fontWeight":"bold"},"encoding":{"text":{"field":"s"}}},
  {"data":{"name":"ar"},"transform":[{"filter":"datum.p=='c'"}],"mark":{"type":"rule","color":"#000000","strokeWidth":2},"encoding":{"x2":{"field":"t2"},"y2":{"field":"v2"}}},
  {"data":{"name":"ar"},"transform":[{"filter":"datum.id=='c1'"}],"mark":{"type":"point","shape":"triangle-up","angle":180,"filled":true,"opacity":1,"size":80,"color":"#000000"},"encoding":{"x":{"field":"t2","type":"quantitative","axis":null},"y":{"field":"v2","type":"quantitative","axis":null}}},
  {"data":{"name":"ar"},"transform":[{"filter":"datum.id=='c2'"}],"mark":{"type":"point","shape":"triangle-up","angle":214,"filled":true,"opacity":1,"size":80,"color":"#000000"},"encoding":{"x":{"field":"t2","type":"quantitative","axis":null},"y":{"field":"v2","type":"quantitative","axis":null}}}
 ]},
{"width":242,"height":55,
 "encoding":{"x":{"field":"t","type":"quantitative","scale":{"domain":[3.52,6.635],"nice":false,"zero":false},"axis":null},"y":{"field":"v","type":"quantitative","scale":{"domain":[0,100],"nice":false,"zero":false},"axis":{"values":[0,10,20,30,40,50,60,70,80,90,100],"labelExpr":"datum.value % 50 == 0 ? datum.label : ''","title":null}}},
 "layer":[
  {"data":{"name":"tr"},"transform":[{"filter":"datum.p=='d1'"}],"mark":{"type":"line","color":"#000000","strokeWidth":1.8,"interpolate":"monotone"},"encoding":{}},
  {"data":{"name":"mk"},"transform":[{"filter":"datum.p=='d1'"}],"mark":{"type":"rule","color":"#55cc00","strokeWidth":2},"encoding":{"x2":{"field":"t2"}}},
  {"data":{"name":"lb"},"transform":[{"filter":"datum.p=='d1' && (datum.k=='ann' || datum.k=='nl')"}],"mark":{"type":"text","color":"#000000"},"encoding":{"text":{"field":"s"}}},
  {"data":{"name":"lb"},"transform":[{"filter":"datum.p=='d1' && datum.k=='ttl'"}],"mark":{"type":"text","color":"#000000","fontSize":12.5,"fontWeight":"bold"},"encoding":{"text":{"field":"s"}}},
  {"data":{"name":"lb"},"transform":[{"filter":"datum.p=='d1' && datum.k=='ttls'"}],"mark":{"type":"text","color":"#000000","fontSize":8.5,"fontWeight":"bold"},"encoding":{"text":{"field":"s"}}},
  {"data":{"name":"lb"},"transform":[{"filter":"datum.p=='d1' && datum.k=='pl'"}],"mark":{"type":"text","color":"#000000","fontSize":14,"fontWeight":"bold"},"encoding":{"text":{"field":"s"}}},
  {"data":{"name":"ar"},"transform":[{"filter":"datum.p=='d'"}],"mark":{"type":"rule","color":"#000000","strokeWidth":2},"encoding":{"x2":{"field":"t2"},"y2":{"field":"v2"}}},
  {"data":{"name":"ar"},"transform":[{"filter":"datum.id=='d1'"}],"mark":{"type":"point","shape":"triangle-up","angle":180,"filled":true,"opacity":1,"size":130,"color":"#000000"},"encoding":{"x":{"field":"t2","type":"quantitative","axis":null},"y":{"field":"v2","type":"quantitative","axis":null}}},
  {"data":{"name":"ar"},"transform":[{"filter":"datum.id=='d2'"}],"mark":{"type":"point","shape":"triangle-up","angle":211,"filled":true,"opacity":1,"size":60,"color":"#000000"},"encoding":{"x":{"field":"t2","type":"quantitative","axis":null},"y":{"field":"v2","type":"quantitative","axis":null}}}
 ]},
{"width":245,"height":55,
 "encoding":{"x":{"field":"t","type":"quantitative","scale":{"domain":[3.47,6.64],"nice":false,"zero":false},"axis":null},"y":{"field":"v","type":"quantitative","scale":{"domain":[0,100],"nice":false,"zero":false},"axis":{"values":[0,10,20,30,40,50,60,70,80,90,100],"labelExpr":"datum.value % 50 == 0 ? datum.label : ''","title":"Relative Abundance","titleY":15,"titlePadding":4}}},
 "layer":[
  {"data":{"name":"tr"},"transform":[{"filter":"datum.p=='c2'"}],"mark":{"type":"line","color":"#3c3cb0","strokeWidth":1.8,"interpolate":"monotone"},"encoding":{}},
  {"data":{"name":"lb"},"transform":[{"filter":"datum.p=='c2' && datum.k=='ann'"}],"mark":{"type":"text","color":"#000000"},"encoding":{"text":{"field":"s"}}},
  {"data":{"name":"lb"},"transform":[{"filter":"datum.p=='c2' && datum.k=='nl'"}],"mark":{"type":"text","color":"#3c3cb0"},"encoding":{"text":{"field":"s"}}}
 ]},
{"width":242,"height":55,
 "encoding":{"x":{"field":"t","type":"quantitative","scale":{"domain":[3.52,6.635],"nice":false,"zero":false},"axis":null},"y":{"field":"v","type":"quantitative","scale":{"domain":[0,100],"nice":false,"zero":false},"axis":{"values":[0,10,20,30,40,50,60,70,80,90,100],"labelExpr":"datum.value % 50 == 0 ? datum.label : ''","title":"Relative Abundance","titleY":22,"titlePadding":4}}},
 "layer":[
  {"data":{"name":"tr"},"transform":[{"filter":"datum.p=='d2'"}],"mark":{"type":"line","color":"#3c3cb0","strokeWidth":1.8,"interpolate":"monotone"},"encoding":{}},
  {"data":{"name":"mk"},"transform":[{"filter":"datum.p=='d2'"}],"mark":{"type":"rule","color":"#55cc00","strokeWidth":2},"encoding":{"x2":{"field":"t2"}}},
  {"data":{"name":"lb"},"transform":[{"filter":"datum.p=='d2' && datum.k=='ann'"}],"mark":{"type":"text","color":"#000000"},"encoding":{"text":{"field":"s"}}},
  {"data":{"name":"lb"},"transform":[{"filter":"datum.p=='d2' && datum.k=='nl'"}],"mark":{"type":"text","color":"#3c3cb0"},"encoding":{"text":{"field":"s"}}}
 ]},
{"width":245,"height":55,
 "encoding":{"x":{"field":"t","type":"quantitative","scale":{"domain":[3.47,6.64],"nice":false,"zero":false},"axis":null},"y":{"field":"v","type":"quantitative","scale":{"domain":[0,100],"nice":false,"zero":false},"axis":{"values":[0,10,20,30,40,50,60,70,80,90,100],"labelExpr":"datum.value % 50 == 0 ? datum.label : ''","title":null}}},
 "layer":[
  {"data":{"name":"tr"},"transform":[{"filter":"datum.p=='c3'"}],"mark":{"type":"line","color":"#6cbf12","strokeWidth":1.8,"interpolate":"monotone"},"encoding":{}},
  {"data":{"name":"lb"},"transform":[{"filter":"datum.p=='c3' && datum.k=='ann'"}],"mark":{"type":"text","color":"#000000"},"encoding":{"text":{"field":"s"}}},
  {"data":{"name":"lb"},"transform":[{"filter":"datum.p=='c3' && datum.k=='nl'"}],"mark":{"type":"text","color":"#6cbf12"},"encoding":{"text":{"field":"s"}}}
 ]},
{"width":242,"height":55,
 "encoding":{"x":{"field":"t","type":"quantitative","scale":{"domain":[3.52,6.635],"nice":false,"zero":false},"axis":null},"y":{"field":"v","type":"quantitative","scale":{"domain":[0,100],"nice":false,"zero":false},"axis":{"values":[0,10,20,30,40,50,60,70,80,90,100],"labelExpr":"datum.value % 50 == 0 ? datum.label : ''","title":null}}},
 "layer":[
  {"data":{"name":"tr"},"transform":[{"filter":"datum.p=='d3'"}],"mark":{"type":"line","color":"#6cbf12","strokeWidth":1.8,"interpolate":"monotone"},"encoding":{}},
  {"data":{"name":"lb"},"transform":[{"filter":"datum.p=='d3' && datum.k=='ann'"}],"mark":{"type":"text","color":"#000000"},"encoding":{"text":{"field":"s"}}},
  {"data":{"name":"lb"},"transform":[{"filter":"datum.p=='d3' && datum.k=='nl'"}],"mark":{"type":"text","color":"#6cbf12"},"encoding":{"text":{"field":"s"}}}
 ]},
{"width":245,"height":55,
 "encoding":{"x":{"field":"t","type":"quantitative","scale":{"domain":[3.47,6.64],"nice":false,"zero":false},"axis":{"values":[3.5,3.6,3.7,3.8,3.9,4,4.1,4.2,4.3,4.4,4.5,4.6,4.7,4.8,4.9,5,5.1,5.2,5.3,5.4,5.5,5.6,5.7,5.8,5.9,6,6.1,6.2,6.3,6.4,6.5,6.6],"labelExpr":"abs(datum.value - round(datum.value)) < 0.001 ? format(datum.value, 'd') : ''","title":"Time (min)"}},"y":{"field":"v","type":"quantitative","scale":{"domain":[0,100],"nice":false,"zero":false},"axis":{"values":[0,10,20,30,40,50,60,70,80,90,100],"labelExpr":"datum.value % 50 == 0 ? datum.label : ''","title":null}}},
 "layer":[
  {"data":{"name":"tr"},"transform":[{"filter":"datum.p=='c4'"}],"mark":{"type":"line","color":"#95d8ea","strokeWidth":2,"interpolate":"monotone"},"encoding":{}},
  {"data":{"name":"lb"},"transform":[{"filter":"datum.p=='c4' && datum.k=='ann'"}],"mark":{"type":"text","color":"#000000"},"encoding":{"text":{"field":"s"}}},
  {"data":{"name":"lb"},"transform":[{"filter":"datum.p=='c4' && datum.k=='nl'"}],"mark":{"type":"text","color":"#95d8ea"},"encoding":{"text":{"field":"s"}}}
 ]},
{"width":242,"height":55,
 "encoding":{"x":{"field":"t","type":"quantitative","scale":{"domain":[3.52,6.635],"nice":false,"zero":false},"axis":{"values":[3.6,3.7,3.8,3.9,4,4.1,4.2,4.3,4.4,4.5,4.6,4.7,4.8,4.9,5,5.1,5.2,5.3,5.4,5.5,5.6,5.7,5.8,5.9,6,6.1,6.2,6.3,6.4,6.5,6.6],"labelExpr":"abs(datum.value - round(datum.value)) < 0.001 ? format(datum.value, 'd') : ''","title":"Time (min)"}},"y":{"field":"v","type":"quantitative","scale":{"domain":[0,100],"nice":false,"zero":false},"axis":{"values":[0,10,20,30,40,50,60,70,80,90,100],"labelExpr":"datum.value % 50 == 0 ? datum.label : ''","title":null}}},
 "layer":[
  {"data":{"name":"tr"},"transform":[{"filter":"datum.p=='d4'"}],"mark":{"type":"line","color":"#95d8ea","strokeWidth":2,"interpolate":"monotone"},"encoding":{}},
  {"data":{"name":"lb"},"transform":[{"filter":"datum.p=='d4' && datum.k=='nl'"}],"mark":{"type":"text","color":"#95d8ea"},"encoding":{"text":{"field":"s"}}}
 ]}
]
}
